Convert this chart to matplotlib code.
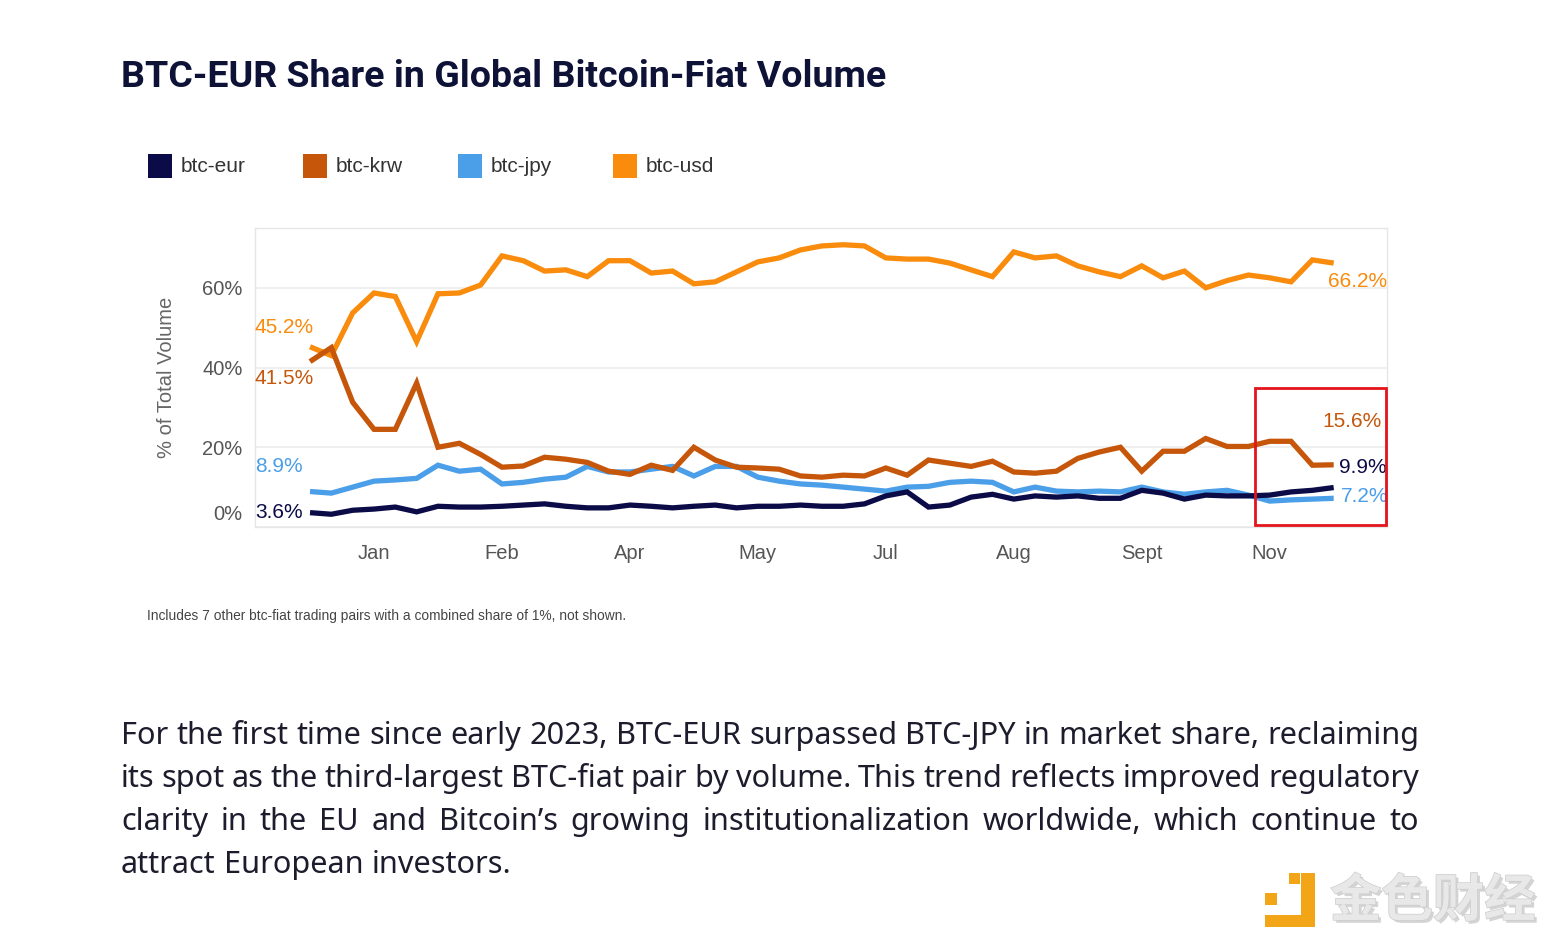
import matplotlib
matplotlib.use('Agg')
import matplotlib.pyplot as plt
import matplotlib.patheffects as pe
from matplotlib.patches import Rectangle

# weekly shares, % of total btc-fiat volume
btc_eur = [3.6, 3.2, 4.2, 4.5, 5.0, 3.8, 5.2, 5.0, 5.0, 5.2,
           5.5, 5.8, 5.2, 4.8, 4.8, 5.5, 5.2, 4.8, 5.2, 5.5,
           4.8, 5.2, 5.2, 5.5, 5.2, 5.2, 5.8, 7.8, 8.8, 5.0,
           5.5, 7.5, 8.2, 7.0, 7.8, 7.5, 7.8, 7.2, 7.2, 9.2,
           8.5, 7.0, 8.0, 7.8, 7.8, 8.0, 8.8, 9.2, 9.9]
btc_krw = [41.5, 45.0, 31.3, 24.5, 24.5, 36.1, 20.0, 21.0, 18.2, 15.0,
           15.3, 17.5, 17.0, 16.2, 14.0, 13.2, 15.5, 14.2, 20.0, 16.8,
           15.0, 14.8, 14.5, 12.8, 12.5, 13.0, 12.8, 14.8, 13.0, 16.8,
           16.0, 15.2, 16.5, 13.8, 13.5, 14.0, 17.2, 18.8, 20.0, 14.0,
           19.0, 19.0, 22.2, 20.2, 20.2, 21.5, 21.5, 15.5, 15.6]
btc_jpy = [8.9, 8.5, 10.0, 11.5, 11.8, 12.2, 15.5, 14.0, 14.5, 10.8,
           11.2, 12.0, 12.5, 15.2, 13.8, 13.8, 14.5, 15.2, 12.8, 15.2,
           15.2, 12.5, 11.5, 10.8, 10.5, 10.0, 9.5, 9.0, 10.0, 10.2,
           11.2, 11.5, 11.2, 8.8, 10.0, 9.0, 8.8, 9.0, 8.8, 10.0,
           8.8, 8.2, 8.8, 9.2, 8.0, 6.5, 6.8, 7.0, 7.2]
btc_usd = [45.2, 43.0, 53.7, 58.7, 57.8, 46.5, 58.5, 58.7, 60.7, 68.0,
           66.8, 64.2, 64.5, 62.8, 66.8, 66.8, 63.7, 64.2, 61.0, 61.5,
           64.0, 66.5, 67.5, 69.5, 70.5, 70.8, 70.5, 67.5, 67.2, 67.2,
           66.2, 64.5, 62.8, 69.0, 67.5, 68.0, 65.5, 64.0, 62.8, 65.5,
           62.5, 64.2, 60.0, 61.8, 63.2, 62.5, 61.5, 67.0, 66.2]
weeks = list(range(len(btc_usd)))

months = ['Jan', 'Feb', 'Apr', 'May', 'Jul', 'Aug', 'Sept', 'Nov']
month_weeks = [3, 9, 15, 21, 27, 33, 39, 45]
yticks = [0, 20, 40, 60]

names = ['btc-eur', 'btc-krw', 'btc-jpy', 'btc-usd']
colors = {'btc-eur': '#0b0b48', 'btc-krw': '#c5560a', 'btc-jpy': '#4b9ee8', 'btc-usd': '#f98b0d'}
series = {'btc-eur': btc_eur, 'btc-krw': btc_krw, 'btc-jpy': btc_jpy, 'btc-usd': btc_usd}

title_text = 'BTC-EUR Share in Global Bitcoin-Fiat Volume'
note_text = 'Includes 7 other btc-fiat trading pairs with a combined share of 1%, not shown.'
body_lines = [
    'For the first time since early 2023, BTC-EUR surpassed BTC-JPY in market share, reclaiming',
    'its spot as the third-largest BTC-fiat pair by volume. This trend reflects improved regulatory',
    'clarity in the EU and Bitcoin\u2019s growing institutionalization worldwide, which continue to',
    'attract European investors.',
]

W, H = 1547, 940
def fx(px):
    return px / W
def fy(py):
    return 1 - py / H

fig = plt.figure(figsize=(W / 100, H / 100), dpi=100)
fig.patch.set_facecolor('white')
r = fig.canvas.get_renderer()
arial = 'Liberation Sans'

# title, sized to the reference width
title = fig.text(fx(121), fy(87), title_text, fontsize=22, fontweight='bold',
                 color='#0d1236', family='Roboto', va='baseline')
w = title.get_window_extent(r).width
title.set_fontsize(22 * 763 / w)

# chart
ax = fig.add_axes([fx(255), fy(527), (1387 - 255) / W, (527 - 228) / H])
for name in ['btc-usd', 'btc-jpy', 'btc-eur', 'btc-krw']:
    ax.plot(weeks, series[name], color=colors[name], lw=3.8, solid_joinstyle='miter',
            solid_capstyle='butt', zorder=3)

ax.set_xlim(-2.58, 50.5)
ax.set_ylim(0, 75)
ax.set_xticks(month_weeks)
ax.set_xticklabels(months)
ax.set_yticks(yticks)
# the 0% label sits a little above its gridline in the reference
ax.set_yticklabels(['' if v == 0 else f'{v}%' for v in yticks])
ax.annotate('0%', xy=(0, 0), xycoords=('axes fraction', 'data'), xytext=(-12.5, 12),
            textcoords='offset pixels', ha='right', va='center', fontsize=14.5,
            color='#555555', family=arial, annotation_clip=False)
ax.tick_params(axis='both', length=0, labelsize=14.5, labelcolor='#555555')
ax.tick_params(axis='y', pad=9)
ax.tick_params(axis='x', pad=12)
for lab in ax.get_xticklabels() + ax.get_yticklabels():
    lab.set_family(arial)
ax.grid(axis='y', color='#ececec', lw=1.2, zorder=0)
for s in ax.spines.values():
    s.set_color('#e6e6e6')
    s.set_linewidth(1.0)
ax.set_ylabel('% of Total Volume', fontsize=14.5, color='#666666', family=arial)
ax.yaxis.set_label_coords(-0.07, 0.5)

# start / end value labels
start_labels = [('btc-usd', '45.2%', 4, 19, 'right'), ('btc-krw', '41.5%', 4, -17, 'right'),
                ('btc-jpy', '8.9%', -7, 25, 'right'), ('btc-eur', '3.6%', -7, 0, 'right')]
end_labels = [('btc-usd', '66.2%', -6, -18), ('btc-krw', '15.6%', -11, 43),
              ('btc-eur', '9.9%', 5, 20), ('btc-jpy', '7.2%', 7, 2)]
for name, txt, dx, dy, ha in start_labels:
    ax.annotate(txt, (weeks[0], series[name][0]), xytext=(dx, dy), textcoords='offset pixels',
                ha=ha, va='center', fontsize=15, color=colors[name], family=arial,
                annotation_clip=False, zorder=4)
for name, txt, dx, dy in end_labels:
    ax.annotate(txt, (weeks[-1], series[name][-1]), xytext=(dx, dy), textcoords='offset pixels',
                ha='left', va='center', fontsize=15, color=colors[name], family=arial,
                annotation_clip=False, zorder=4)

# highlight box around the last weeks
ax.add_patch(Rectangle((44.3, 0.5), 6.15, 34.3, fill=False, ec='#e3141b', lw=2.0,
                       zorder=5, clip_on=False))

# legend
for i, name in enumerate(names):
    x0 = 148 + 155 * i
    fig.patches.append(Rectangle((fx(x0), fy(178)), 24 / W, 24 / H, transform=fig.transFigure,
                                 facecolor=colors[name], edgecolor='none'))
    fig.text(fx(x0 + 33), fy(166), name, fontsize=15, color='#333333', family=arial,
             va='center', ha='left')

# footnote
fig.text(fx(147), fy(616), note_text, fontsize=9.9, color='#444444', family=arial, va='center')

# justified paragraph
body_size = 20
probe = fig.text(0, 0, body_lines[0], fontsize=body_size, family='Noto Sans')
body_size = body_size * 1298 / probe.get_window_extent(r).width
probe.remove()
space = fig.text(0, 0, 'a a', fontsize=body_size, family='Noto Sans')
aa = fig.text(0, 0, 'aa', fontsize=body_size, family='Noto Sans')
space_w = space.get_window_extent(r).width - aa.get_window_extent(r).width
space.remove()
aa.remove()
for li, line in enumerate(body_lines):
    words = line.split(' ')
    y = fy(744 + 43 * li)
    texts = [fig.text(0, y, wd, fontsize=body_size, family='Noto Sans', color='#1c1c2c',
                      va='baseline') for wd in words]
    widths = [t.get_window_extent(r).width for t in texts]
    if li < len(body_lines) - 1:
        gap = (1298 - sum(widths)) / (len(words) - 1)
    else:
        gap = space_w
    x = 121
    for t, wd in zip(texts, widths):
        t.set_x(fx(x))
        x += wd + gap

# watermark
logo = '#f2a516'
for x0, y0, x1, y1 in [(1265, 893, 1277, 905), (1289, 873, 1300, 884),
                       (1301, 873, 1315, 927), (1265, 915, 1315, 927)]:
    fig.patches.append(Rectangle((fx(x0), fy(y1)), (x1 - x0) / W, (y1 - y0) / H,
                                 transform=fig.transFigure, facecolor=logo, edgecolor='none'))
fig.text(fx(1330), fy(901), '\u91d1\u8272\u8d22\u7ecf', fontsize=37, fontweight='bold',
         color='#e8e8e8', family=['Noto Sans CJK SC', 'DejaVu Sans'], va='center', ha='left',
         path_effects=[pe.SimplePatchShadow(offset=(2, -2), shadow_rgbFace='#a0a0a0', alpha=0.45),
                       pe.Stroke(linewidth=1.0, foreground='#cdcdcd'), pe.Normal()])

fig.savefig('out.png', dpi=100, facecolor='white')
